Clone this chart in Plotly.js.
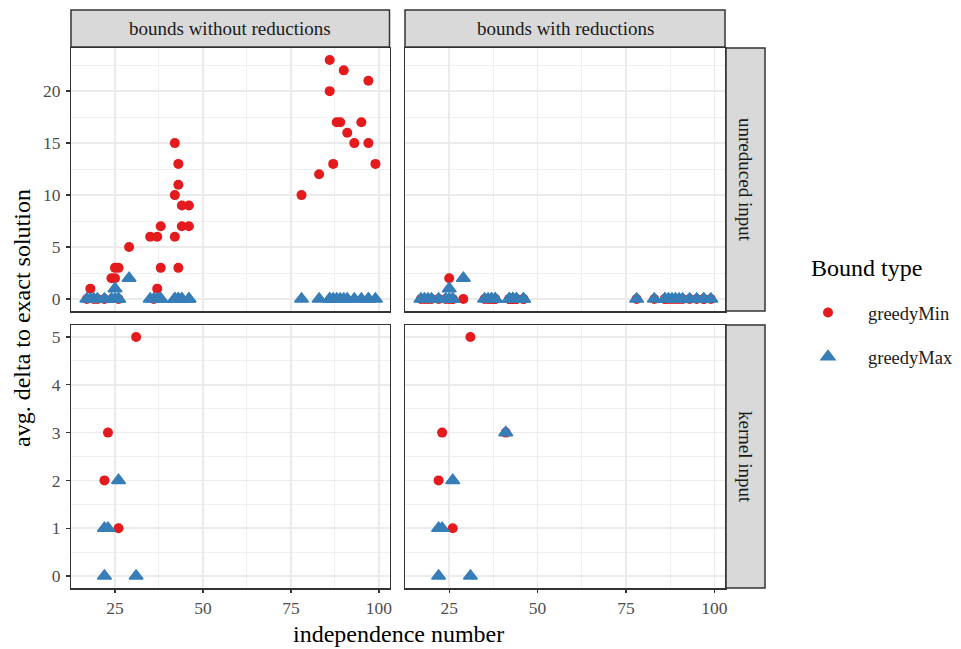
<!DOCTYPE html>
<html>
<head>
<meta charset="utf-8">
<script src="https://cdn.plot.ly/plotly-3.0.1.min.js"></script>
<style>
  html, body { margin: 0; padding: 0; background: #ffffff; }
  #chart { width: 961px; height: 649px; }
</style>
</head>
<body>
<div id="chart"></div>
<script>
// Independence numbers of the unreduced test graphs
const indepUnreduced = [17,18,19,20,22,24,25,25,26,26,29,35,36,37,37,38,38,42,42,42,43,43,43,44,44,46,46,78,83,86,86,87,88,89,90,91,93,95,97,97,99];

// avg. delta to exact solution, unreduced input, bounds without reductions
const minUnreducedNoRed = [0,1,0,0,0,2,2,3,3,0,5,6,0,6,1,7,3,15,10,6,13,11,3,9,7,9,7,10,12,23,20,13,17,17,22,16,15,17,21,15,13];
const maxUnreducedNoRed = [0,0,0,0,0,0,1,0,0,0,2,0,0,0,0,0,0,0,0,0,0,0,0,0,0,0,0,0,0,0,0,0,0,0,0,0,0,0,0,0,0];

// unreduced input, bounds with reductions
const minUnreducedRed = [0,0,0,0,0,0,2,0,0,0,0,0,0,0,0,0,0,0,0,0,0,0,0,0,0,0,0,0,0,0,0,0,0,0,0,0,0,0,0,0,0];
const maxUnreducedRed = [0,0,0,0,0,0,1,0,0,0,2,0,0,0,0,0,0,0,0,0,0,0,0,0,0,0,0,0,0,0,0,0,0,0,0,0,0,0,0,0,0];

// kernel input, bounds without reductions
const minKernelNoRedX = [22,23,26,31];
const minKernelNoRed  = [2,3,1,5];
const maxKernelNoRedX = [22,22,23,26,31];
const maxKernelNoRed  = [0,1,1,2,0];

// kernel input, bounds with reductions
const minKernelRedX = [22,23,26,31,41];
const minKernelRed  = [2,3,1,5,3];
const maxKernelRedX = [22,22,23,26,31,41];
const maxKernelRed  = [0,1,1,2,0,3];

const colLabels = ['bounds without reductions', 'bounds with reductions'];
const rowLabels = ['unreduced input', 'kernel input'];
const seriesNames = ['greedyMin', 'greedyMax'];
const legendTitle = 'Bound type';
const xTicks = [25, 50, 75, 100];
const yTicksTop = [0, 5, 10, 15, 20];
const yTicksBottom = [0, 1, 2, 3, 4, 5];

const RED = '#E41A1C', BLUE = '#377EB8';
const FONT = 'Liberation Serif, Times New Roman, serif';
const W = 961, H = 649;

// panel geometry in pixels
const colX = [[71, 389.5], [405, 725]];
const rowY = [[48, 311], [325, 588]];
const stripTop = [10, 47];
const stripRight = [726, 765];

const px = v => v / W;
const py = v => 1 - v / H;

function redTrace(x, y, xa, ya, legend) {
  return {
    type: 'scatter', mode: 'markers', x: x, y: y, xaxis: xa, yaxis: ya,
    name: seriesNames[0], legendgroup: 'min', showlegend: legend,
    marker: { symbol: 'circle', size: 10, color: RED, line: { width: 0 } },
    hoverinfo: 'x+y'
  };
}
function blueTrace(x, y, xa, ya, legend) {
  return {
    type: 'scatter', mode: 'markers', x: x, y: y, xaxis: xa, yaxis: ya,
    name: seriesNames[1], legendgroup: 'max', showlegend: legend,
    marker: { symbol: 'triangle-up', size: 12, color: BLUE, line: { width: 1.6, color: BLUE } },
    hoverinfo: 'x+y'
  };
}

const data = [
  redTrace(indepUnreduced, minUnreducedNoRed, 'x', 'y', true),
  redTrace(indepUnreduced, minUnreducedRed, 'x2', 'y2', false),
  redTrace(minKernelNoRedX, minKernelNoRed, 'x3', 'y3', false),
  redTrace(minKernelRedX, minKernelRed, 'x4', 'y4', false),
  blueTrace(indepUnreduced, maxUnreducedNoRed, 'x', 'y', true),
  blueTrace(indepUnreduced, maxUnreducedRed, 'x2', 'y2', false),
  blueTrace(maxKernelNoRedX, maxKernelNoRed, 'x3', 'y3', false),
  blueTrace(maxKernelRedX, maxKernelRed, 'x4', 'y4', false)
];

function xAxis(col, row, anchor) {
  return {
    domain: [px(colX[col][0]), px(colX[col][1])],
    anchor: anchor,
    range: [12.5, 103.0],
    tickvals: xTicks, ticktext: xTicks.map(String),
    showticklabels: row === 1,
    ticks: row === 1 ? 'outside' : '',
    ticklen: 3.5, tickwidth: 1.3, tickcolor: '#333333',
    tickfont: { family: FONT, size: 17.5, color: '#4D4D4D' },
    showgrid: true, gridcolor: '#EBEBEB', gridwidth: 1.6,
    minor: { tick0: 0, dtick: 12.5, showgrid: true, gridcolor: '#EBEBEB', gridwidth: 0.8 },
    zeroline: false, showline: true, mirror: true, linecolor: '#333333', linewidth: 1.5,
    fixedrange: true
  };
}
function yAxis(col, row, anchor) {
  const top = row === 0;
  return {
    domain: [py(rowY[row][1]), py(rowY[row][0])],
    anchor: anchor,
    range: top ? [-1.15, 24.15] : [-0.25, 5.25],
    tickvals: top ? yTicksTop : yTicksBottom,
    ticktext: (top ? yTicksTop : yTicksBottom).map(String),
    showticklabels: col === 0,
    ticks: col === 0 ? 'outside' : '',
    ticklen: 3.5, tickwidth: 1.3, tickcolor: '#333333',
    ticklabelstandoff: 2,
    tickfont: { family: FONT, size: 17.5, color: '#4D4D4D' },
    showgrid: true, gridcolor: '#EBEBEB', gridwidth: 1.6,
    minor: { tick0: 0, dtick: top ? 2.5 : 0.5, showgrid: true, gridcolor: '#EBEBEB', gridwidth: 0.8 },
    zeroline: false, showline: true, mirror: true, linecolor: '#333333', linewidth: 1.5,
    fixedrange: true
  };
}

const shapes = [];
const annotations = [];
colX.forEach((c, i) => {
  shapes.push({ type: 'rect', xref: 'paper', yref: 'paper',
    x0: px(c[0]), x1: px(c[1]), y0: py(stripTop[1]), y1: py(stripTop[0]),
    fillcolor: '#D9D9D9', line: { color: '#333333', width: 1.5 } });
  annotations.push({ xref: 'paper', yref: 'paper', x: px((c[0] + c[1]) / 2), y: py((stripTop[0] + stripTop[1]) / 2),
    text: colLabels[i], showarrow: false, xanchor: 'center', yanchor: 'middle',
    font: { family: FONT, size: 19, color: '#1A1A1A' } });
});
rowY.forEach((r, i) => {
  shapes.push({ type: 'rect', xref: 'paper', yref: 'paper',
    x0: px(stripRight[0]), x1: px(stripRight[1]), y0: py(r[1]), y1: py(r[0]),
    fillcolor: '#D9D9D9', line: { color: '#333333', width: 1.5 } });
  annotations.push({ xref: 'paper', yref: 'paper', x: px((stripRight[0] + stripRight[1]) / 2), y: py((r[0] + r[1]) / 2),
    text: rowLabels[i], showarrow: false, xanchor: 'center', yanchor: 'middle', textangle: 90,
    font: { family: FONT, size: 19, color: '#1A1A1A' } });
});
annotations.push({ xref: 'paper', yref: 'paper', x: px(398), y: py(634),
  text: 'independence number', showarrow: false, xanchor: 'center', yanchor: 'middle',
  font: { family: FONT, size: 24, color: '#000000' } });
annotations.push({ xref: 'paper', yref: 'paper', x: px(22), y: py(318),
  text: 'avg. delta to exact solution', showarrow: false, xanchor: 'center', yanchor: 'middle', textangle: -90,
  font: { family: FONT, size: 24, color: '#000000' } });
// legend heading
annotations.push({ xref: 'paper', yref: 'paper', x: px(809), y: py(268),
  text: legendTitle, showarrow: false, xanchor: 'left', yanchor: 'middle',
  font: { family: FONT, size: 24, color: '#000000' } });

const layout = {
  width: W, height: H,
  margin: { l: 0, r: 0, t: 0, b: 0, pad: 0 },
  paper_bgcolor: '#FFFFFF', plot_bgcolor: '#FFFFFF',
  font: { family: FONT },
  xaxis: xAxis(0, 0, 'y'), yaxis: yAxis(0, 0, 'x'),
  xaxis2: xAxis(1, 0, 'y2'), yaxis2: yAxis(1, 0, 'x2'),
  xaxis3: xAxis(0, 1, 'y3'), yaxis3: yAxis(0, 1, 'x3'),
  xaxis4: xAxis(1, 1, 'y4'), yaxis4: yAxis(1, 1, 'x4'),
  showlegend: true,
  legend: {
    x: px(788), y: py(294), xanchor: 'left', yanchor: 'top',
    font: { family: FONT, size: 18.5, color: '#1A1A1A' },
    tracegroupgap: 17, itemwidth: 70,
    bgcolor: 'rgba(0,0,0,0)', borderwidth: 0
  },
  shapes: shapes,
  annotations: annotations,
  hovermode: 'closest'
};

Plotly.newPlot('chart', data, layout, { displayModeBar: false, staticPlot: true });
</script>
</body>
</html>
